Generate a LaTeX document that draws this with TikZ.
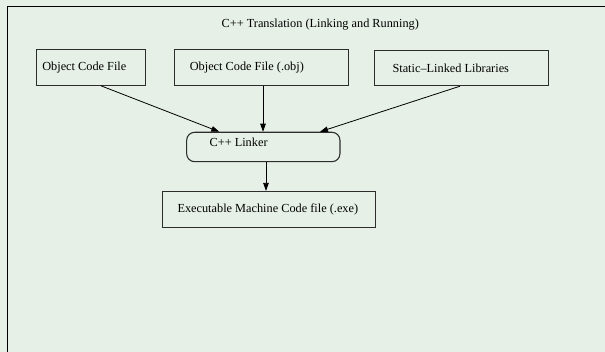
\documentclass[tikz,border=0pt]{standalone}
\usepackage{fontspec}
\setmainfont{Liberation Serif}
\usetikzlibrary{arrows.meta}
\definecolor{panelbg}{RGB}{230,240,230}
\definecolor{boxline}{RGB}{45,45,45}
\newcommand{\lefttext}[2]{\makebox[#1][l]{#2}}
\tikzset{
  txt/.style={font=\fontsize{12.3}{14}\selectfont},
  filebox/.style={txt, draw=boxline, line width=1.1pt, rectangle, inner ysep=0pt,
    minimum height=#1},
  filebox/.default=35.3pt,
  link/.style={draw=black, line width=0.8pt, -{Triangle[length=8pt,width=5.5pt]}}
}
\begin{document}
\begin{tikzpicture}[x=1pt,y=-1pt]
  \useasboundingbox (0,0) rectangle (605,352);
  \fill[panelbg] (0,0) rectangle (605,352);
  % outer panel: only the left and top edges fall inside the page
  \draw[line width=1.2pt] (7.5,352) -- (7.5,6.5) -- (605,6.5);

  \node[txt, anchor=west, inner sep=0pt] (title) at (221.5,24.5)
    {C++ Translation (Linking and Running)};

  % source boxes
  \node[filebox, inner xsep=6pt] (obj1) at (91,67.5)
    {\lefttext{97.4pt}{Object Code File}};
  \node[filebox, inner xsep=15.5pt] (obj2) at (261.3,67.5)
    {\lefttext{143pt}{Object Code File (.obj)}};
  \node[filebox, inner xsep=17.8pt] (libs) at (461.7,68)
    {\lefttext{138.4pt}{Static\textendash Linked Libraries}};

  % linker
  \node[txt, draw=boxline, line width=1.1pt, rectangle, rounded corners=8pt,
    inner ysep=0pt, inner xsep=23pt, minimum height=29.4pt,
    text height=8.5pt, text depth=8.5pt] (linker) at (263.3,147)
    {\lefttext{107.3pt}{C++ Linker}};

  % output
  \node[filebox=36pt, inner xsep=14.8pt] (exe) at (269.2,209.5)
    {\lefttext{183.4pt}{Executable Machine Code file (.exe)}};

  % connectors
  \draw[link] ([xshift=9.7pt]obj1.south) -- ([xshift=-44pt]linker.north);
  \draw[link] ([xshift=1.7pt]obj2.south) -- ([xshift=-0.3pt]linker.north);
  \draw[link] ([xshift=-1.7pt]libs.south) -- ([xshift=56.7pt]linker.north);
  \draw[link] ([xshift=2.7pt]linker.south) -- ([xshift=-3.2pt]exe.north);
\end{tikzpicture}
\end{document}
